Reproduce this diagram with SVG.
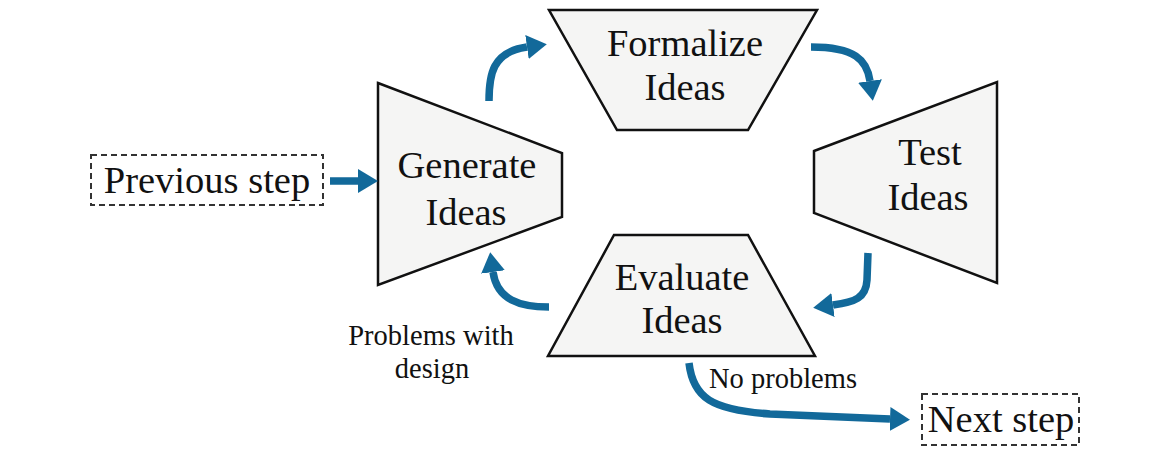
<svg xmlns="http://www.w3.org/2000/svg" width="1156" height="474" viewBox="0 0 1156 474">
  <style>
    .stage { fill: #f5f5f4; stroke: #111; stroke-width: 2.5; stroke-linejoin: miter; }
    .step { fill: none; stroke: #333; stroke-width: 2; stroke-dasharray: 6 4; }
    .big { font-family: "Liberation Serif", "Times New Roman", serif; font-size: 38.5px; fill: #111; text-anchor: middle; }
    .small { font-family: "Liberation Serif", "Times New Roman", serif; font-size: 28.5px; fill: #111; text-anchor: middle; }
    .flow { fill: none; stroke: #12699a; stroke-width: 7.5; stroke-linecap: butt; marker-end: url(#head); }
  </style>
  <defs>
    <marker id="head" viewBox="0 0 20 24" refX="0" refY="12" markerWidth="20" markerHeight="24" markerUnits="userSpaceOnUse" orient="auto">
      <path d="M0,0 L20,12 L0,24 Z" fill="#12699a"/>
    </marker>
  </defs>
  <rect width="1156" height="474" fill="#fff"/>

  <g id="previous-step">
    <rect class="step" x="91" y="155" width="232" height="50"/>
    <text class="big" x="207" y="193">Previous step</text>
  </g>

  <g id="generate-ideas">
    <polygon class="stage" points="378,83 562,153 562,217 378,285"/>
    <text class="big" x="467" y="178">Generate</text>
    <text class="big" x="466" y="225">Ideas</text>
  </g>

  <g id="formalize-ideas">
    <polygon class="stage" points="549,10 817,10 748,130 617,130"/>
    <text class="big" x="685" y="56">Formalize</text>
    <text class="big" x="685" y="100">Ideas</text>
  </g>

  <g id="test-ideas">
    <polygon class="stage" points="814,151 997,82 997,283 814,213"/>
    <text class="big" x="930" y="165">Test</text>
    <text class="big" x="928" y="210">Ideas</text>
  </g>

  <g id="evaluate-ideas">
    <polygon class="stage" points="614,235 748,235 815,356 548,356"/>
    <text class="big" x="682" y="290">Evaluate</text>
    <text class="big" x="682" y="333">Ideas</text>
  </g>

  <g id="next-step">
    <rect class="step" x="922" y="394" width="157" height="51"/>
    <text class="big" x="1001" y="432">Next step</text>
  </g>

  <g id="connectors">
    <path class="flow" d="M330,181 L358,181"/>
    <path class="flow" d="M489,101 C489,75 492,52 527,47"/>
    <path class="flow" d="M811,47 C855,47 867,60 870,81"/>
    <path class="flow" d="M868,253 L867,280 C866,298 855,302 833,305"/>
    <path class="flow" d="M549,307 C520,307 497,300 493,272"/>
    <path class="flow" d="M689,363 C693,398 712,410 770,414 L890,419"/>
    <text class="small" x="431" y="345">Problems with</text>
    <text class="small" x="432" y="378">design</text>
    <text class="small" x="783" y="388">No problems</text>
  </g>
</svg>
